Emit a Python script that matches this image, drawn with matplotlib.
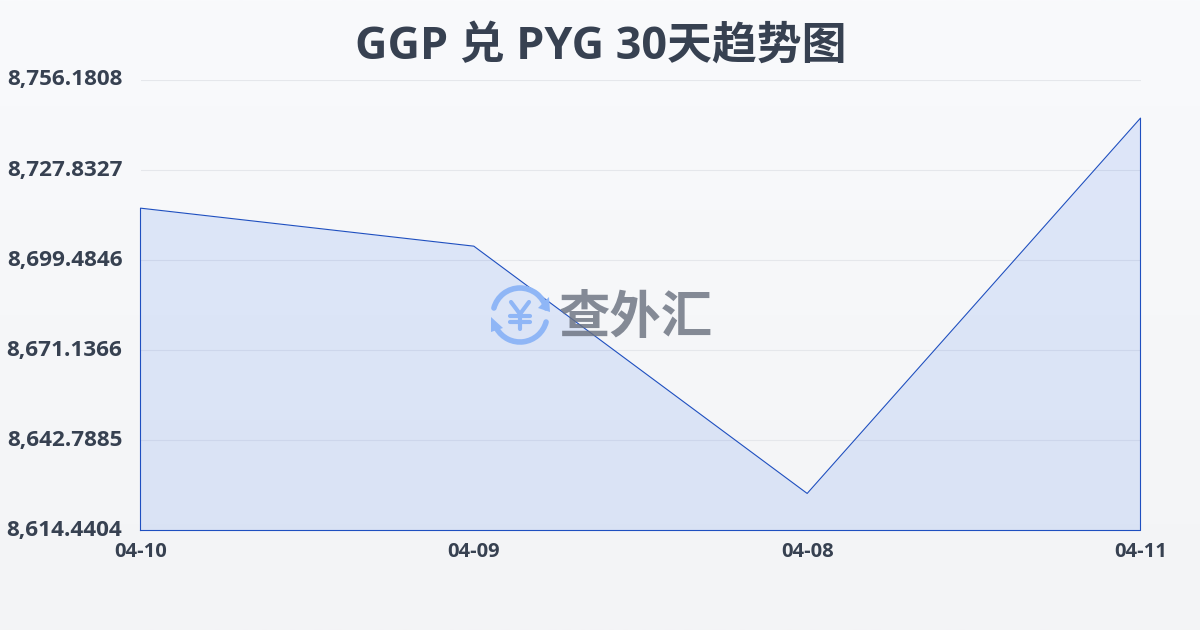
import numpy as np
import matplotlib
matplotlib.use("Agg")
import matplotlib.pyplot as plt
from matplotlib.patches import Arc, Polygon

dates = ["04-10", "04-09", "04-08", "04-11"]
rates = [8715.86, 8703.90, 8626.10, 8744.20]
y_ticks = [8614.4404, 8642.7885, 8671.1366, 8699.4846, 8727.8327, 8756.1808]
y_labels = ["8,614.4404", "8,642.7885", "8,671.1366", "8,699.4846", "8,727.8327", "8,756.1808"]
title = "GGP 兑 PYG 30天趋势图"
watermark = "查外汇"

W, H = 1200, 630
LATIN = ['Open Sans', 'Noto Sans CJK SC', 'DejaVu Sans']
plt.rcParams['font.family'] = LATIN
fig = plt.figure(figsize=(W / 100, H / 100), dpi=100)

bg = fig.add_axes([0, 0, 1, 1], zorder=0)
bg.axis("off")
grad = np.linspace(0, 1, 256).reshape(-1, 1, 1)
top = np.array([0xf9, 0xfa, 0xfc]) / 255
bot = np.array([0xf3, 0xf4, 0xf6]) / 255
bg.imshow(top + (bot - top) * grad, aspect="auto", extent=[0, 1, 0, 1])

ax = fig.add_axes([140.5 / W, 1 - 530.5 / H, 1000 / W, 450.5 / H], zorder=1)
ax.patch.set_alpha(0)
x = np.arange(len(dates))
ax.set_xlim(0, len(dates) - 1)
ax.set_ylim(y_ticks[0], y_ticks[-1])
ax.yaxis.grid(True, color="#e5e7eb", lw=0.8, zorder=1)
ax.set_axisbelow(True)
ax.fill_between(x, rates, y_ticks[0], color="#2563eb", alpha=0.12, lw=0, zorder=2)
ax.plot(list(x[:1]) + list(x) + list(x[-1:]) + list(x[:1]),
        [y_ticks[0]] + rates + [y_ticks[0], y_ticks[0]],
        color="#1e4fc0", lw=0.8, zorder=3, clip_on=False)
for s in ax.spines.values():
    s.set_visible(False)
ax.set_xticks(x, dates)
ax.set_yticks(y_ticks, y_labels)
ax.tick_params(axis="both", length=0)
for t in ax.get_xticklabels():
    t.set(fontsize=14.5, fontweight="bold", color="#374151")
for t in ax.get_yticklabels():
    t.set(fontsize=16.2, fontweight="bold", color="#374151", ha="right", va="center")
ax.tick_params(axis="y", pad=13)
ax.tick_params(axis="x", pad=8)

fig.text(600.5 / W, 1 - 47.5 / H, title, ha="center", va="center",
         fontsize=32.3, fontweight="bold", color="#374151")

# watermark
ov = fig.add_axes([0, 0, 1, 1], zorder=3)
ov.set_xlim(0, W)
ov.set_ylim(H, 0)
ov.axis("off")
ov.patch.set_alpha(0)
blue = "#8fb6f6"
cx, cy, r = 520, 315, 27
ov.add_patch(Arc((cx, cy), 2 * r, 2 * r, theta1=15, theta2=150, color=blue, lw=4, capstyle="round"))
ov.add_patch(Arc((cx, cy), 2 * r, 2 * r, theta1=195, theta2=345, color=blue, lw=4, capstyle="round"))
ov.add_patch(Polygon([[549, 297], [550, 312], [538, 308]], color=blue, lw=0))
ov.add_patch(Polygon([[491, 317], [491, 332], [503, 328]], color=blue, lw=0))
ov.plot([511, 520, 529], [302, 314, 302], color=blue, lw=3, solid_capstyle="round")
ov.plot([520, 520], [314, 329], color=blue, lw=3, solid_capstyle="round")
ov.plot([510, 530], [316, 316], color=blue, lw=3, solid_capstyle="round")
ov.plot([510, 530], [322, 322], color=blue, lw=3, solid_capstyle="round")
ov.text(636, 318, watermark, ha="center", va="center", fontsize=37, fontweight="bold",
        color="#6b7280", alpha=0.82, family=['Noto Sans CJK SC', 'DejaVu Sans'])

fig.savefig("out.png", dpi=100)
